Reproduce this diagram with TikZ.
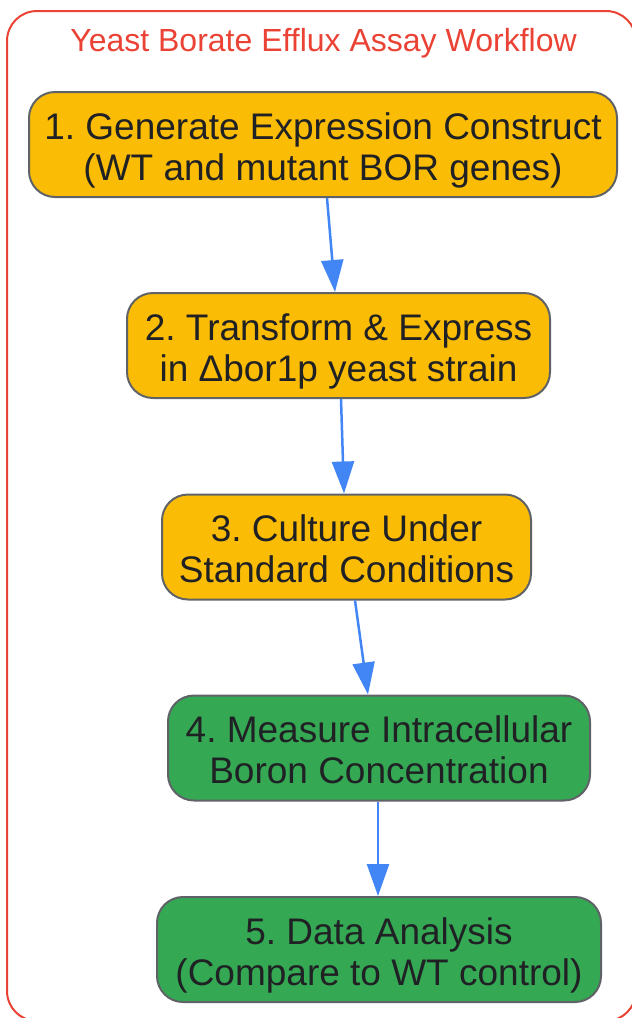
\documentclass[tikz,border=0pt]{standalone}
\usepackage{fontspec}
\setmainfont{Liberation Sans}
\usetikzlibrary{arrows.meta}
\frenchspacing
\definecolor{orangefill}{HTML}{FBBC05}
\definecolor{greenfill}{HTML}{34A853}
\definecolor{boxborder}{HTML}{5F6368}
\definecolor{arrowblue}{HTML}{4285F4}
\definecolor{titlered}{HTML}{EA4335}
\definecolor{textdark}{HTML}{202124}
\newcommand\twolines[2]{\rule{0pt}{39pt}#1\\#2\rule[-9pt]{0pt}{9pt}}
\tikzset{
  stepbox/.style={draw=boxborder, line width=2pt, rounded corners=26pt, align=center,
    text=textdark, inner sep=0pt, minimum height=105pt,
    font=\fontsize{37}{41}\selectfont},
  orangebox/.style={stepbox, fill=orangefill},
  greenbox/.style={stepbox, fill=greenfill},
  flow/.style={draw=arrowblue, line width=2.5pt, -{Triangle[length=32pt,width=22pt]}},
}
\begin{document}
\begin{tikzpicture}[x=1pt,y=-1pt]
\useasboundingbox (0,0) rectangle (632,1018);
\begin{scope}
\clip (0,0) rectangle (632,1018);
\draw[titlered, line width=2pt, rounded corners=30pt] (7,11) rectangle (636,1021);
\end{scope}
\node[font=\fontsize{32}{36}\selectfont, text=titlered] (title) at (323.5,43) {Yeast Borate Efflux Assay Workflow};
\node[orangebox, minimum width=588pt] (n1) at (323,144.5) {\twolines{1. Generate Expression Construct}{(WT and mutant BOR genes)}};
\node[orangebox, minimum width=423pt] (n2) at (338.5,345.5) {\twolines{2. Transform \& Express}{in Δbor1p yeast strain}};
\node[orangebox, minimum width=369pt] (n3) at (346.5,547) {\twolines{3. Culture Under}{Standard Conditions}};
\node[greenbox, minimum width=422pt] (n4) at (379,748) {\twolines{4. Measure Intracellular}{Boron Concentration}};
\node[greenbox, minimum width=444pt] (n5) at (379,949.5) {\twolines{5. Data Analysis}{(Compare to WT control)}};
\draw[flow] ([xshift=4pt]n1.south) -- ([xshift=-3.5pt]n2.north);
\draw[flow] ([xshift=2.5pt]n2.south) -- ([xshift=-2.5pt]n3.north);
\draw[flow] ([xshift=8.5pt]n3.south) -- ([xshift=-11pt]n4.north);
\draw[flow] ([xshift=-1pt]n4.south) -- ([xshift=-1pt]n5.north);
\end{tikzpicture}
\end{document}
